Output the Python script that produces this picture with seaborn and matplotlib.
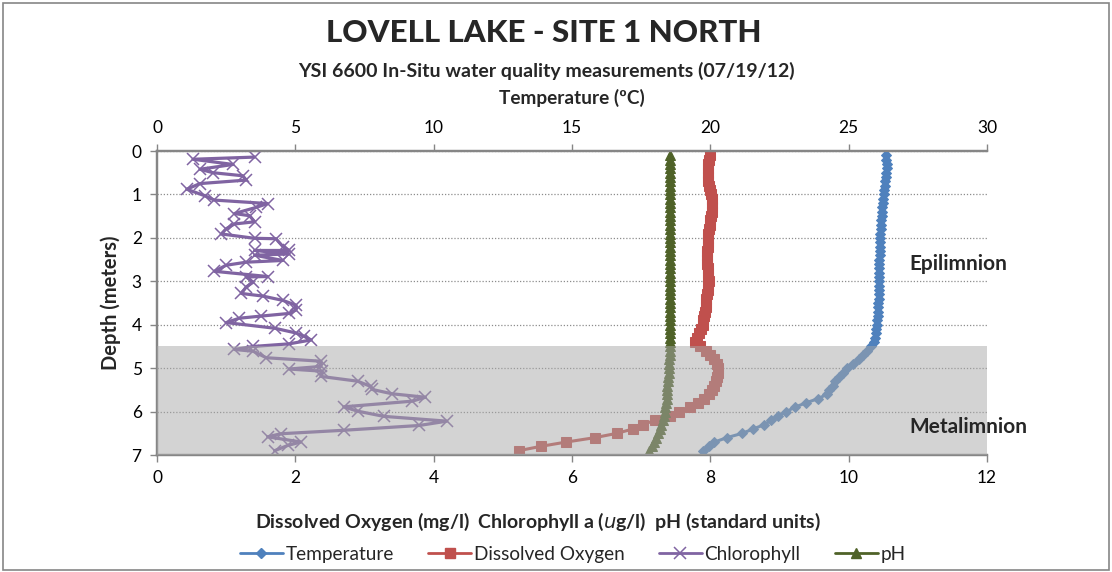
import numpy as np
import pandas as pd
import matplotlib
matplotlib.use("Agg")
import matplotlib.pyplot as plt
from matplotlib.lines import Line2D
from matplotlib.patches import Rectangle
import seaborn as sns

sns.set_theme(style="white")
plt.rcParams["font.family"] = ["Lato", "DejaVu Sans"]

# depth of sonde readings (m)
depth = [0.1, 0.2, 0.3, 0.4, 0.5, 0.6, 0.7, 0.8, 0.9, 1.0,
         1.1, 1.2, 1.3, 1.4, 1.5, 1.6, 1.7, 1.8, 1.9, 2.0,
         2.1, 2.2, 2.3, 2.4, 2.5, 2.6, 2.7, 2.8, 2.9, 3.0,
         3.1, 3.2, 3.3, 3.4, 3.5, 3.6, 3.7, 3.8, 3.9, 4.0,
         4.1, 4.2, 4.3, 4.4, 4.5, 4.6, 4.7, 4.8, 4.9, 5.0,
         5.1, 5.2, 5.3, 5.4, 5.5, 5.6, 5.7, 5.8, 5.9, 6.0,
         6.1, 6.2, 6.3, 6.4, 6.5, 6.6, 6.7, 6.8, 6.9]

temperature = [26.35, 26.36, 26.37, 26.37, 26.36, 26.34, 26.32, 26.30, 26.28, 26.27,
               26.25, 26.23, 26.22, 26.20, 26.19, 26.18, 26.17, 26.16, 26.15, 26.14,
               26.13, 26.13, 26.12, 26.12, 26.11, 26.11, 26.10, 26.10, 26.10, 26.09,
               26.09, 26.08, 26.08, 26.08, 26.07, 26.07, 26.06, 26.05, 26.04, 26.02,
               26.00, 25.98, 25.96, 25.93, 25.80, 25.65, 25.50, 25.38, 25.15, 24.95,
               24.80, 24.65, 24.52, 24.45, 24.30, 24.22, 23.90, 23.45, 23.05, 22.75,
               22.45, 22.20, 21.95, 21.55, 21.15, 20.60, 20.15, 19.95, 19.75]

dissolved_oxygen = [7.99, 7.98, 7.97, 7.97, 7.96, 7.96, 7.97, 7.98, 8.00, 8.01,
                    8.02, 8.02, 8.03, 8.02, 8.01, 8.00, 7.99, 7.98, 7.97, 7.97,
                    7.96, 7.96, 7.95, 7.95, 7.95, 7.95, 7.96, 7.97, 7.97, 7.98,
                    7.97, 7.96, 7.95, 7.94, 7.93, 7.93, 7.92, 7.91, 7.90, 7.89,
                    7.87, 7.84, 7.80, 7.78, 7.85, 7.93, 8.00, 8.05, 8.09, 8.11,
                    8.11, 8.10, 8.08, 8.06, 8.03, 7.98, 7.91, 7.82, 7.70, 7.55,
                    7.42, 7.20, 7.02, 6.88, 6.65, 6.33, 5.92, 5.55, 5.23]

ph = [7.41, 7.41, 7.42, 7.42, 7.42, 7.41, 7.41, 7.41, 7.42, 7.42,
      7.42, 7.41, 7.41, 7.41, 7.42, 7.42, 7.41, 7.41, 7.41, 7.41,
      7.42, 7.42, 7.41, 7.41, 7.41, 7.41, 7.42, 7.42, 7.41, 7.41,
      7.41, 7.41, 7.41, 7.41, 7.41, 7.41, 7.41, 7.41, 7.41, 7.41,
      7.41, 7.41, 7.41, 7.41, 7.41, 7.41, 7.41, 7.40, 7.40, 7.40,
      7.40, 7.39, 7.39, 7.38, 7.38, 7.37, 7.37, 7.36, 7.35, 7.34,
      7.33, 7.31, 7.29, 7.27, 7.25, 7.22, 7.19, 7.16, 7.12]

# chlorophyll trace zig-zags, so it keeps its own depth list
chl_depth = [0.14, 0.19, 0.31, 0.42, 0.50, 0.57, 0.67, 0.75, 0.88, 1.03,
             1.13, 1.21, 1.30, 1.44, 1.49, 1.63, 1.68, 1.79, 1.91, 2.01,
             2.02, 2.20, 2.29, 2.29, 2.37, 2.40, 2.52, 2.56, 2.63, 2.77,
             2.89, 2.90, 3.02, 3.13, 3.28, 3.34, 3.44, 3.55, 3.66, 3.74,
             3.80, 3.85, 3.95, 4.08, 4.19, 4.27, 4.35, 4.44, 4.50, 4.57,
             4.61, 4.76, 4.84, 4.96, 5.02, 5.07, 5.19, 5.30, 5.42, 5.49,
             5.59, 5.67, 5.76, 5.89, 5.99, 6.11, 6.22, 6.32, 6.43, 6.51,
             6.58, 6.70, 6.78, 6.90]
chlorophyll = [1.41, 0.52, 1.10, 0.62, 0.81, 1.24, 1.29, 0.62, 0.43, 0.69,
               0.83, 1.60, 1.43, 1.12, 1.34, 1.41, 1.12, 1.00, 0.93, 1.41,
               1.72, 1.82, 1.91, 1.41, 1.91, 1.41, 1.82, 1.29, 1.00, 0.83,
               1.60, 1.29, 1.39, 1.29, 1.22, 1.53, 1.82, 2.01, 2.01, 1.91,
               1.51, 1.19, 1.00, 1.70, 2.01, 2.13, 2.23, 1.91, 1.39, 1.12,
               1.39, 1.58, 2.37, 2.37, 1.91, 2.39, 2.37, 2.90, 3.09, 3.11,
               3.40, 3.88, 3.69, 2.70, 2.90, 3.28, 4.19, 3.79, 2.70, 1.79,
               1.60, 2.08, 1.89, 1.70]

c_temp = "#4F81BD"
c_do = "#C0504D"
c_chl = "#8064A2"
c_ph = "#4F6228"
grey = "#868686"

fig = plt.figure(figsize=(11.12, 5.72), dpi=100)
ax = fig.add_axes([0.1412, 0.2045, 0.7464, 0.5315])
ax2 = ax.twiny()

sns.lineplot(x=chlorophyll, y=chl_depth, sort=False, estimator=None, ax=ax,
             color=c_chl, lw=2.3, marker="x", markersize=8, mew=1.1, mec=c_chl)
sns.lineplot(x=dissolved_oxygen, y=depth, sort=False, estimator=None, ax=ax,
             color=c_do, lw=2.2, marker="s", markersize=7, mec=c_do)
sns.lineplot(x=ph, y=depth, sort=False, estimator=None, ax=ax,
             color=c_ph, lw=2.2, marker="^", markersize=6.5, mec=c_ph)
sns.lineplot(x=temperature, y=depth, sort=False, estimator=None, ax=ax2,
             color=c_temp, lw=2.2, marker="D", markersize=5.5, mec=c_temp)

ax.set_xlim(0, 12)
ax2.set_xlim(0, 30)
ax.set_ylim(7, 0)
ax2.set_ylim(7, 0)
ax.set_xticks(range(0, 13, 2))
ax2.set_xticks(range(0, 31, 5))
ax.set_yticks(range(0, 8))

ax.yaxis.grid(True, color="#8c8c8c", linestyle=(0, (1, 1.5)), lw=0.9)
ax.xaxis.grid(False)
ax2.grid(False)

# metalimnion band, semi-transparent over the traces
ax2.add_patch(Rectangle((0, 4.5), 30, 2.5, facecolor="#A8A8A8", alpha=0.5,
                        edgecolor="none", zorder=5))

for a in (ax, ax2):
    for s in a.spines.values():
        s.set_color(grey)
        s.set_linewidth(1.6)
    a.spines["right"].set_visible(False)
    a.tick_params(colors="black", labelsize=12.5, length=5, width=1, direction="out")
    a.tick_params(axis="both", color=grey)
ax.tick_params(axis="x", bottom=True, pad=6)
ax.tick_params(axis="y", left=True, pad=6)
ax2.tick_params(axis="x", top=True, pad=6)

ax.set_ylabel("Depth (meters)", fontsize=14.5, fontweight="bold", labelpad=8)
ax.set_xlabel("Dissolved Oxygen (mg/l)  Chlorophyll a ($\\it{u}$g/l)  pH (standard units)",
              fontsize=14, fontweight="bold")
ax.xaxis.set_label_coords(0.459, -0.185)
ax2.set_xlabel("Temperature (\u00baC)", fontsize=13.7, fontweight="bold", labelpad=11)

fig.text(0.489, 0.942, "LOVELL LAKE - SITE 1 NORTH", ha="center", va="center",
         fontsize=22.5, fontweight="black")
fig.text(0.4915, 0.876, "YSI 6600 In-Situ water quality measurements (07/19/12)",
         ha="center", va="center", fontsize=14, fontweight="bold")

ax2.text(27.2, 2.6, "Epilimnion", fontsize=15, fontweight="bold", va="center")
ax2.text(27.2, 6.36, "Metalimnion", fontsize=15, fontweight="bold", va="center",
         clip_on=False, zorder=6)

handles = [
    Line2D([], [], color=c_temp, lw=2, marker="D", markersize=5.5),
    Line2D([], [], color=c_do, lw=2, marker="s", markersize=7),
    Line2D([], [], color=c_chl, lw=2, marker="x", markersize=8, mew=1.1),
    Line2D([], [], color=c_ph, lw=2, marker="^", markersize=6.5),
]
fig.legend(handles, ["Temperature", "Dissolved Oxygen", "Chlorophyll", "pH"],
           loc="center", bbox_to_anchor=(0.515, 0.031), ncol=4, frameon=False,
           fontsize=13.7, handlelength=2.25, handletextpad=0.15, columnspacing=1.8)

fig.add_artist(Rectangle((0.003, 0.003), 0.994, 0.992, transform=fig.transFigure,
                         fill=False, edgecolor=grey, lw=1.2))

fig.savefig("out.png", dpi=100)
